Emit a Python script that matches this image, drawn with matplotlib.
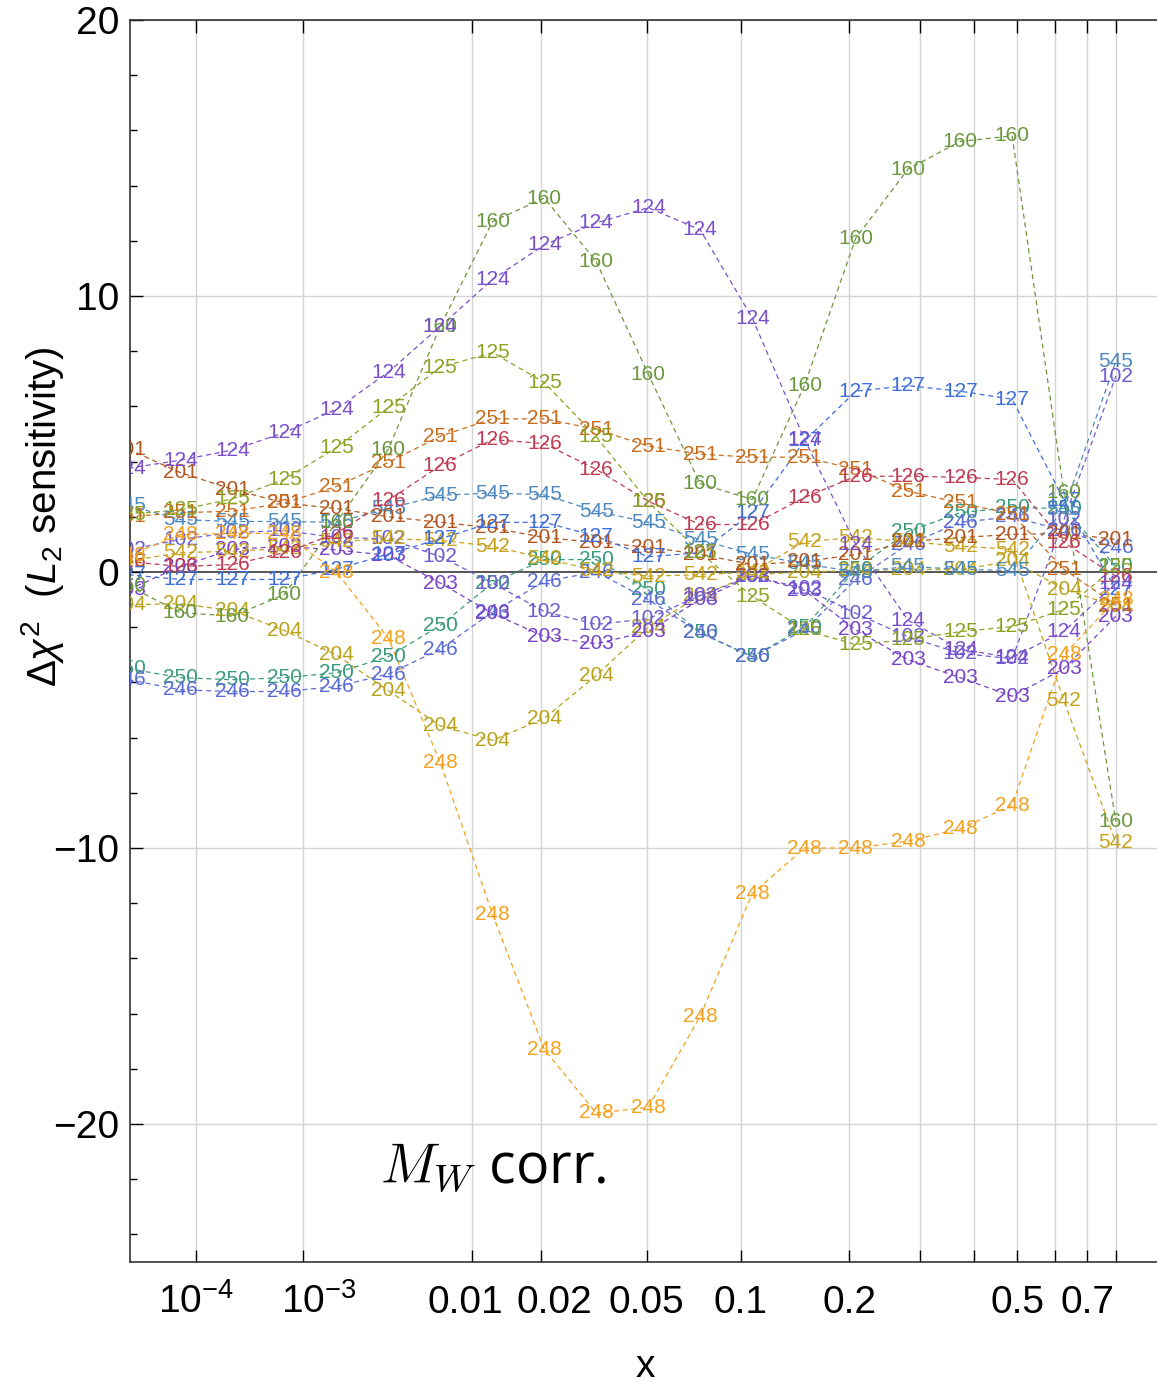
import numpy as np
import matplotlib
matplotlib.use("Agg")
import matplotlib.pyplot as plt
from matplotlib import transforms

plt.rcParams['font.family'] = ['Liberation Sans', 'DejaVu Sans']
plt.rcParams['mathtext.fontset'] = 'custom'
plt.rcParams['mathtext.rm'] = 'Liberation Sans'
plt.rcParams['mathtext.it'] = 'Liberation Sans:italic'
plt.rcParams['mathtext.bf'] = 'Liberation Sans:bold'

# x nodes at which the sensitivities are evaluated
x_nodes = [1.0e-5, 6.42e-5, 2.48e-4, 7.19e-4, 1.73e-3, 3.64e-3, 6.96e-3,
           1.24e-2, 2.07e-2, 3.30e-2, 5.06e-2, 7.49e-2, 0.108, 0.152,
           0.208, 0.281, 0.373, 0.487, 0.627, 0.798]

# L2 sensitivity (delta chi^2) per experiment
dchi_124 = [3.76, 4.05, 4.42, 5.05, 5.9, 7.24, 8.9, 10.6, 11.85, 12.65,
            13.2, 12.4, 9.2, 4.8, 1.0, -1.75, -2.8, -3.1, -2.15, -0.4]
dchi_160 = [-0.5, -1.47, -1.6, -0.82, 1.8, 4.45, 8.9, 12.7, 13.55, 11.25,
            7.17, 3.2, 2.63, 6.77, 12.1, 14.6, 15.6, 15.8, 2.88, -9.05]
dchi_125 = [2.1, 2.25, 2.65, 3.36, 4.5, 5.95, 7.42, 7.95, 6.87, 4.9,
            2.55, 0.7, -0.88, -2.1, -2.63, -2.45, -2.16, -1.98, -1.36, 0.2]
dchi_126 = [0.38, 0.2, 0.27, 0.7, 1.4, 2.6, 3.85, 4.8, 4.65, 3.72,
            2.56, 1.72, 1.72, 2.7, 3.47, 3.47, 3.43, 3.35, 1.07, -0.16]
dchi_127 = [-0.1, -0.27, -0.27, -0.27, 0.1, 0.65, 1.2, 1.8, 1.8, 1.3,
            0.55, 0.7, 2.15, 4.75, 6.55, 6.75, 6.55, 6.26, 2.6, -0.64]
dchi_201 = [4.45, 3.6, 3.0, 2.5, 2.3, 2.0, 1.8, 1.6, 1.25, 1.07,
            0.9, 0.64, 0.27, 0.38, 0.63, 1.1, 1.25, 1.36, 1.4, 1.18]
dchi_251 = [2.0, 2.15, 2.2, 2.5, 3.1, 3.97, 4.92, 5.55, 5.55, 5.17,
            4.56, 4.27, 4.16, 4.16, 3.72, 2.93, 2.5, 2.1, 0.1, -1.2]
dchi_545 = [2.41, 1.9, 1.83, 1.83, 1.8, 2.3, 2.78, 2.86, 2.8, 2.2,
            1.8, 1.17, 0.64, 0.3, 0.0, 0.2, 0.1, 0.05, 2.27, 7.64]
dchi_102 = [0.8, 1.18, 1.43, 1.5, 1.25, 1.2, 0.56, -0.4, -1.43, -1.9,
            -1.69, -0.85, -0.15, -0.6, -1.5, -2.35, -2.95, -3.14, 1.9, 7.1]
dchi_203 = [-0.64, 0.2, 0.82, 0.93, 0.8, 0.6, -0.4, -1.5, -2.34, -2.6,
            -2.15, -1.0, -0.15, -0.67, -2.1, -3.18, -3.83, -4.5, -3.5, -1.6]
dchi_204 = [-1.18, -1.15, -1.4, -2.12, -3.0, -4.3, -5.57, -6.1, -5.3, -3.75,
            -2.0, -0.85, -0.1, 0.0, 0.05, 0.1, 0.08, 0.4, -0.62, -1.24]
dchi_542 = [0.4, 0.7, 0.75, 0.85, 1.1, 1.2, 1.15, 0.93, 0.5, 0.05,
            -0.15, -0.1, 0.0, 1.1, 1.25, 1.1, 0.94, 0.82, -4.67, -9.8]
dchi_248 = [0.6, 1.35, 1.4, 1.4, 0.0, -2.4, -6.9, -12.4, -17.3, -19.6,
            -19.4, -16.1, -11.65, -10.0, -10.0, -9.75, -9.3, -8.45, -3.0, -1.0]
dchi_250 = [-3.5, -3.83, -3.9, -3.83, -3.65, -3.07, -1.94, -0.4, 0.45, 0.45,
            -0.65, -2.2, -3.07, -2.0, 0.1, 1.47, 2.15, 2.34, 2.3, 0.2]
dchi_246 = [-3.9, -4.27, -4.33, -4.33, -4.15, -3.7, -2.8, -1.45, -0.34, 0.0,
            -1.0, -2.2, -3.07, -2.1, -0.27, 1.0, 1.8, 2.0, 1.5, 0.88]

experiments = ['250', '246', '204', '203', '102', '542', '545', '201',
               '251', '126', '127', '125', '160', '124', '248']
sensitivities = [dchi_250, dchi_246, dchi_204, dchi_203, dchi_102, dchi_542,
                 dchi_545, dchi_201, dchi_251, dchi_126, dchi_127, dchi_125,
                 dchi_160, dchi_124, dchi_248]
colors = ['#3a9a7c', '#5a6cd4', '#b9a31a', '#7844c8', '#6c5cd0', '#c6a21a',
          '#4d88bf', '#b0561e', '#c86c1c', '#c03a52', '#3e6edb', '#8ca222',
          '#6a983c', '#7b50cc', '#f4a11e']

x_ticks = [1e-4, 1e-3, 0.01, 0.02, 0.05, 0.1, 0.2, 0.3, 0.4, 0.5, 0.6, 0.7, 0.8]
x_ticklabels = [r'$10^{-4}$', r'$10^{-3}$', '0.01', '0.02', '0.05', '0.1',
                '0.2', '', '', '0.5', '', '0.7', '']
# small sideways nudges (pixels) that keep neighbouring labels apart
x_label_nudge = [0, 16, -7, 14, 0, 0, 0, 0, 0, 0, 0, 0, 0]
y_ticks = [-20, -10, 0, 10, 20]
y_ticklabels = ['\u221220', '\u221210', '0', '10', '20']


def fwd(x):
    x = np.asarray(x, dtype=float)
    return np.sign(x) * np.abs(x) ** 0.2


def inv(y):
    y = np.asarray(y, dtype=float)
    return np.sign(y) * np.abs(y) ** 5


fig = plt.figure(figsize=(11.57, 13.82), dpi=100)
ax = fig.add_axes([130 / 1157, 1 - 1262 / 1382, 1027 / 1157, 1242 / 1382])
ax.set_xscale('function', functions=(fwd, inv))
ax.set_xlim(1.072e-5, 0.9583)
ax.set_ylim(-25, 20)

# grid
for xv in x_ticks:
    ax.axvline(xv, color='#d4d4d4', lw=1.0, zorder=0)
for yv in [-20, -10, 10, 20]:
    ax.axhline(yv, color='#d4d4d4', lw=1.0, zorder=0)
ax.axhline(0, color='#555555', lw=1.4, zorder=1)

for name, vals, col in zip(experiments, sensitivities, colors):
    ax.plot(x_nodes, vals, color=col, lw=0.9, ls=(0, (4, 3)), zorder=2)
    for xv, yv in zip(x_nodes, vals):
        ax.text(xv, yv, name, color=col, fontsize=15, ha='center',
                va='center', clip_on=True, zorder=3)

ax.set_xticks(x_ticks)
ax.set_xticklabels([])
ax.xaxis.set_minor_locator(matplotlib.ticker.NullLocator())
base = transforms.blended_transform_factory(ax.transData, ax.transAxes)
for xv, lab, dx in zip(x_ticks, x_ticklabels, x_label_nudge):
    if lab:
        off = transforms.ScaledTranslation(dx / 100, -51 / 100,
                                           fig.dpi_scale_trans)
        ax.text(xv, 0, lab, transform=base + off, fontsize=28,
                ha='center', va='baseline')

ax.set_yticks(y_ticks)
ax.set_yticklabels(y_ticklabels, fontsize=28)
ax.set_yticks(np.arange(-24, 20, 2), minor=True)
ax.tick_params(axis='x', which='major', direction='in', length=9, width=1,
               top=True, bottom=True)
ax.tick_params(axis='y', which='major', direction='in', length=9, width=1,
               pad=8)
ax.tick_params(axis='y', which='minor', direction='in', length=5, width=1)
ax.spines['right'].set_visible(False)
for s in ['left', 'top', 'bottom']:
    ax.spines[s].set_linewidth(1.2)
    ax.spines[s].set_color('#333333')

ax.set_xlabel('x', fontsize=28, va='center')
ax.xaxis.set_label_coords((645 - 130) / 1027, -(1367 - 1262) / 1242)
ax.set_ylabel(r'$\Delta\chi^2$  ($L_2$ sensitivity)', fontsize=29,
              va='center')
ax.yaxis.set_label_coords(-(130 - 43) / 1027, (1262 - 517) / 1242)

fig.text(380 / 1157, 1 - 1168 / 1382, r'$M_W$ corr.', fontsize=40,
         family='Open Sans', math_fontfamily='cm', ha='left', va='center')

fig.savefig('out.png', dpi=100)
